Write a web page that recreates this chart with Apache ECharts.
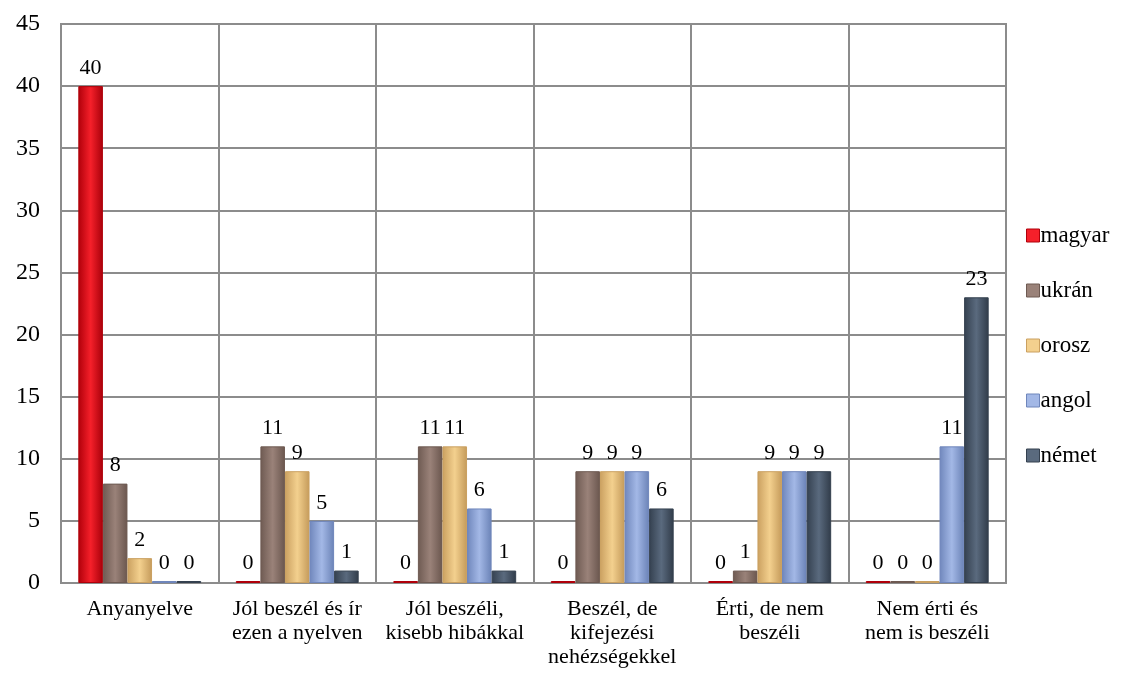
<!DOCTYPE html>
<html><head><meta charset="utf-8">
<script src="https://cdn.jsdelivr.net/npm/echarts@6/dist/echarts.min.js"></script>
<style>html,body{margin:0;padding:0;background:#fff}#c{width:1121px;height:677px}</style>
</head><body><div id="c"></div>
<script>
const categories = ['Anyanyelve', 'Jól beszél és ír\nezen a nyelven', 'Jól beszéli,\nkisebb hibákkal', 'Beszél, de\nkifejezési\nnehézségekkel', 'Érti, de nem\nbeszéli', 'Nem érti és\nnem is beszéli'];
const seriesNames = ['magyar', 'ukrán', 'orosz', 'angol', 'német'];
const magyar = [40, 0, 0, 0, 0, 0];
const ukran = [8, 11, 11, 9, 1, 0];
const orosz = [2, 9, 11, 9, 9, 0];
const angol = [0, 5, 6, 9, 9, 11];
const nemet = [0, 1, 1, 6, 9, 23];
const seriesData = [magyar, ukran, orosz, angol, nemet];
const colors = [
  ['#b0000a', '#f5202a', '#a8000a'],
  ['#6e5a52', '#9a8279', '#6a564e'],
  ['#caa060', '#f3d08e', '#c49a5a'],
  ['#6f86bb', '#a3b8e6', '#6a82b6'],
  ['#34404f', '#5a6a7e', '#303b49']
];
const font = 'Liberation Serif, Times New Roman, serif';
const chart = echarts.init(document.getElementById('c'));
chart.setOption({
  animation: false,
  grid: {left: 61, right: 115, top: 24, bottom: 94, show: true, borderColor: '#8c8c8c', borderWidth: 2},
  legend: {
    orient: 'vertical', left: 1021, top: 219, itemGap: 32, itemWidth: 13, itemHeight: 13,
    textStyle: {fontFamily: font, fontSize: 23, color: '#000', padding: [0,0,0,-4]},
    data: seriesNames.map((n,i)=>({name:n, icon:'rect', itemStyle:{color:colors[i][1], borderColor:colors[i][0], borderWidth:1}}))
  },
  xAxis: {
    type: 'category', data: categories,
    axisLine: {show: true, lineStyle: {color: '#8c8c8c', width: 2}},
    axisTick: {show: false},
    splitLine: {show: true, lineStyle: {color: '#8c8c8c', width: 2}},
    axisLabel: {interval: 0, fontFamily: font, fontSize: 22, color: '#000', lineHeight: 24, margin: 14}
  },
  yAxis: {
    type: 'value', min: 0, max: 45, interval: 5,
    axisLine: {show: false}, axisTick: {show: false},
    splitLine: {lineStyle: {color: '#8c8c8c', width: 2}},
    axisLabel: {fontFamily: font, fontSize: 24, color: '#000', margin: 21}
  },
  series: seriesNames.map((n,i)=>({
    name: n, type: 'bar', data: seriesData[i],
    barGap: '0%', barCategoryGap: '22%', barMinHeight: 2,
    itemStyle: {
      color: new echarts.graphic.LinearGradient(0,0,1,0,[{offset:0,color:colors[i][0]},{offset:0.5,color:colors[i][1]},{offset:1,color:colors[i][2]}]),
      borderColor: colors[i][0], borderWidth: 1
    },
    label: {show: true, position: 'top', distance: 7, fontFamily: font, fontSize: 22, color: '#000'}
  }))
});
</script></body></html>
